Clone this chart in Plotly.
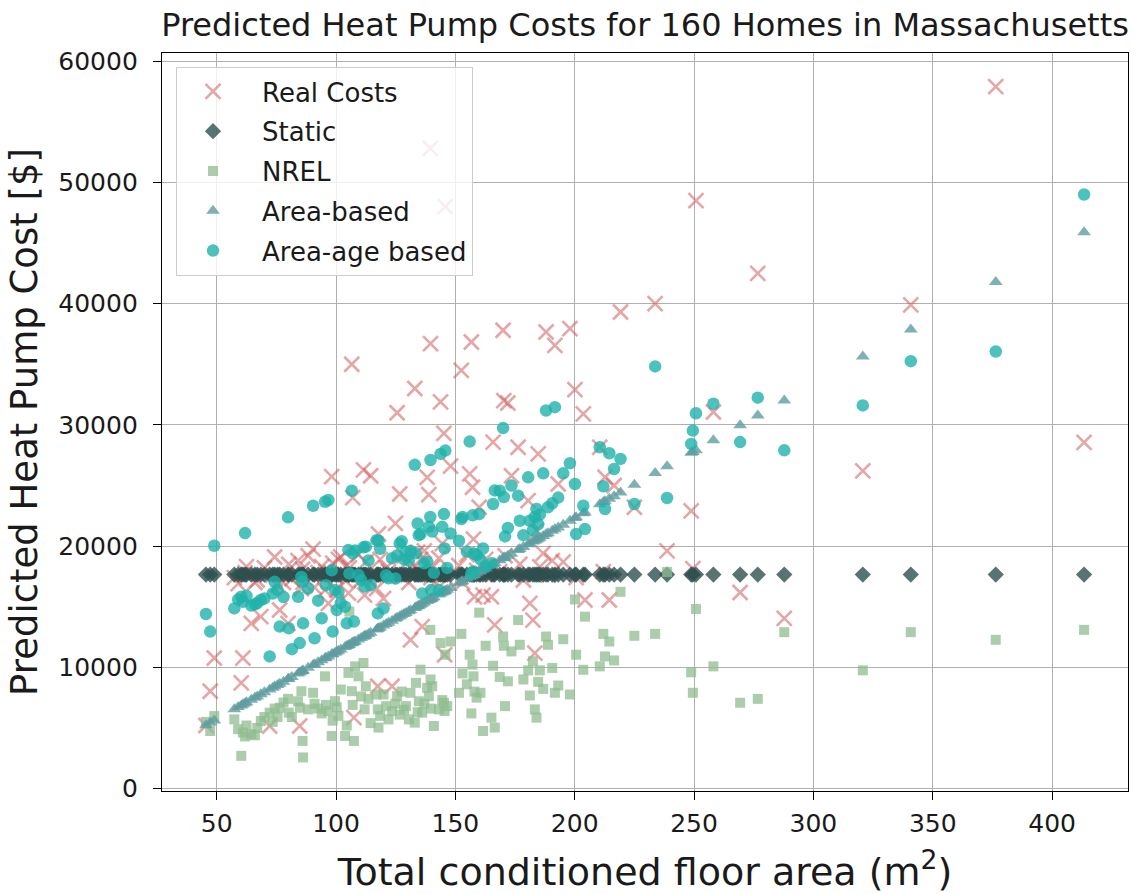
import plotly.graph_objects as go

# Floor area of each home (m^2)
area = [45.5, 47.3, 49.0, 57.4, 59.0, 60.3, 61.0, 61.9, 62.5, 64.5,
        66.0, 67.0, 68.5, 70.0, 72.2, 73.5, 74.3, 75.5, 76.4, 78.0,
        79.9, 80.2, 81.5, 84.1, 84.8, 85.5, 86.0, 86.2, 88.3, 90.4,
        91.0, 92.5, 94.0, 95.4, 95.8, 96.8, 98.2, 98.6, 99.6, 100.3,
        101.0, 102.0, 103.8, 104.5, 105.2, 105.6, 106.6, 107.0, 107.5, 108.0,
        109.4, 110.5, 111.5, 112.0, 112.5, 113.6, 114.5, 117.0, 117.5, 117.8,
        118.5, 119.9, 121.0, 122.0, 123.5, 124.9, 125.6, 126.7, 127.5, 128.5,
        129.3, 130.5, 131.2, 133.0, 133.5, 134.2, 134.7, 135.4, 136.1, 137.0,
        138.2, 138.9, 139.5, 139.6, 139.8, 140.3, 141.0, 143.1, 143.8, 144.5,
        145.2, 145.5, 145.8, 146.6, 148.0, 151.5, 152.5, 153.0, 154.8, 156.0,
        156.7, 157.2, 157.6, 158.0, 158.9, 160.0, 160.5, 161.6, 162.7, 165.1,
        165.8, 166.5, 168.6, 170.0, 170.3, 170.8, 172.0, 173.5, 176.3, 177.0,
        178.5, 180.5, 181.2, 182.5, 183.3, 184.0, 184.7, 185.4, 186.8, 188.0,
        188.8, 190.6, 191.7, 193.1, 195.2, 198.0, 200.1, 200.6, 203.6, 204.3,
        210.5, 212.0, 212.7, 214.5, 216.5, 219.2, 225.0, 233.7, 238.7, 248.8,
        249.5, 250.8, 258.1, 269.3, 276.7, 287.8, 320.7, 340.8, 376.4, 413.4]

real_costs = [5200, 8030, 10770, 17400, 16900, 8720, 10770, 17800, 18300, 13630,
              17000, 17200, 14180, 18200, 5160, 17600, 19100, 16800, 14730, 17000,
              13630, 18500, 17300, 18800, 5160, 16500, 18100, 17000, 19200, 19750,
              16600, 17800, 18300, 16370, 17900, 15270, 25730, 18600, 17500, 16370,
              18900, 19100, 17190, 18400, 16120, 18200, 35000, 24000, 5850, 17600,
              19300, 17200, 26280, 15960, 18700, 17300, 25800, 16500, 8440, 21000,
              18900, 15680, 18200, 17900, 8440, 21870, 31000, 24300, 17500, 19200,
              18600, 17000, 12270, 33000, 18300, 19500, 17800, 18900, 13360, 19600,
              25670, 24240, 52800, 36700, 17400, 18200, 16900, 19000, 31900, 20200,
              29300, 11040, 48000, 17300, 26600, 18400, 34490, 17000, 19300, 25950,
              36830, 24850, 20580, 15820, 18000, 23200, 17700, 15960, 18900, 15820,
              28570, 13500, 17900, 37800, 32000, 19200, 31800, 25800, 28150, 18500,
              17200, 23750, 15270, 13900, 11170, 21270, 27600, 18280, 19400, 37660,
              17600, 18800, 36560, 25120, 18700, 37930, 32900, 17400, 30900, 15550,
              28150, 17900, 25680, 15550, 25000, 39310, 23200, 40000, 19600, 22900,
              18140, 48500, 31060, 16170, 42500, 14040, 26200, 39900, 57900, 28550]

static_cost = [17650, 17650, 17650, 17650, 17650, 17650, 17650, 17650, 17650, 17650,
               17650, 17650, 17650, 17650, 17650, 17650, 17650, 17650, 17650, 17650,
               17650, 17650, 17650, 17650, 17650, 17650, 17650, 17650, 17650, 17650,
               17650, 17650, 17650, 17650, 17650, 17650, 17650, 17650, 17650, 17650,
               17650, 17650, 17650, 17650, 17650, 17650, 17650, 17650, 17650, 17650,
               17650, 17650, 17650, 17650, 17650, 17650, 17650, 17650, 17650, 17650,
               17650, 17650, 17650, 17650, 17650, 17650, 17650, 17650, 17650, 17650,
               17650, 17650, 17650, 17650, 17650, 17650, 17650, 17650, 17650, 17650,
               17650, 17650, 17650, 17650, 17650, 17650, 17650, 17650, 17650, 17650,
               17650, 17650, 17650, 17650, 17650, 17650, 17650, 17650, 17650, 17650,
               17650, 17650, 17650, 17650, 17650, 17650, 17650, 17650, 17650, 17650,
               17650, 17650, 17650, 17650, 17650, 17650, 17650, 17650, 17650, 17650,
               17650, 17650, 17650, 17650, 17650, 17650, 17650, 17650, 17650, 17650,
               17650, 17650, 17650, 17650, 17650, 17650, 17650, 17650, 17650, 17650,
               17650, 17650, 17650, 17650, 17650, 17650, 17650, 17650, 17650, 17650,
               17650, 17650, 17650, 17650, 17650, 17650, 17650, 17650, 17650, 17650]

nrel_cost = [5500, 4750, 5980, 5710, 4900, 2700, 4620, 4300, 5200, 4480,
             4400, 5000, 5570, 5900, 6260, 5500, 6600, 5900, 6670, 7100,
             7400, 6260, 5900, 7200, 6670, 8030, 3930, 2570, 6530, 7900,
             7000, 6600, 6200, 9260, 6900, 6390, 4340, 5600, 7210, 6700,
             6000, 8170, 4340, 5200, 9540, 14590, 8030, 6900, 3930, 10080,
             9260, 7600, 10360, 6530, 8440, 7400, 5400, 7760, 6530, 5030,
             6000, 7760, 6800, 5710, 6390, 7000, 7620, 6100, 8000, 6500,
             6800, 5710, 7900, 5440, 8720, 6300, 7200, 9810, 6260, 7000,
             8300, 7620, 13090, 9000, 6600, 8440, 5160, 6530, 12000, 7300,
             7080, 6400, 11040, 6800, 12130, 7900, 12760, 9500, 8600, 11040,
             6200, 10220, 9260, 8000, 7500, 14510, 7900, 4750, 11780, 5850,
             10130, 5030, 9210, 12540, 11780, 6800, 8850, 11310, 13900, 11860,
             9000, 9750, 7680, 10500, 6530, 5850, 8800, 9750, 8220, 12540,
             11860, 9950, 7900, 8500, 12320, 7760, 15600, 11040, 9800, 14180,
             10080, 12760, 10900, 12130, 10570, 16230, 12600, 12760, 17870, 9590,
             7900, 14810, 10080, 7080, 7400, 12900, 9750, 12900, 12270, 13090]

area_based_cost = [5230, 5430, 5610, 6540, 6720, 6860, 6940, 7040, 7110, 7330,
                   7490, 7600, 7770, 7940, 8180, 8320, 8410, 8540, 8640, 8820,
                   9030, 9060, 9210, 9490, 9570, 9650, 9700, 9730, 9960, 10190,
                   10260, 10420, 10590, 10740, 10790, 10900, 11050, 11100, 11210, 11280,
                   11360, 11470, 11670, 11750, 11820, 11870, 11980, 12020, 12080, 12130,
                   12290, 12410, 12520, 12580, 12630, 12750, 12850, 13130, 13180, 13220,
                   13290, 13450, 13570, 13680, 13850, 14000, 14080, 14200, 14290, 14400,
                   14490, 14620, 14700, 14900, 14950, 15030, 15080, 15160, 15240, 15340,
                   15470, 15550, 15610, 15630, 15650, 15700, 15780, 16010, 16090, 16170,
                   16240, 16280, 16310, 16400, 16550, 16940, 17050, 17110, 17310, 17440,
                   17520, 17570, 17610, 17660, 17760, 17880, 17940, 18060, 18180, 18440,
                   18520, 18600, 18830, 18990, 19020, 19070, 19210, 19370, 19680, 19760,
                   19920, 20150, 20220, 20370, 20450, 20530, 20610, 20690, 20840, 20970,
                   21060, 21260, 21380, 21540, 21770, 22080, 22310, 22370, 22700, 22780,
                   23460, 23630, 23700, 23900, 24120, 24420, 25060, 26020, 26580, 27690,
                   27770, 27910, 28720, 29960, 30780, 32000, 35640, 37860, 41790, 45880]

area_age_cost = [14400, 12950, 20030, 14860, 15600, 15820, 15400, 21070, 15900, 15100,
                 15200, 15300, 15550, 15680, 10900, 16090, 17050, 16400, 13360, 15800,
                 22370, 13220, 11500, 15820, 12000, 17460, 17050, 13630, 16500, 23330,
                 12400, 15500, 14040, 23660, 16780, 23800, 18000, 12950, 16370, 14730,
                 16200, 15300, 15000, 13630, 19670, 17730, 24570, 19400, 13770, 19640,
                 17620, 17200, 19900, 16670, 19950, 18820, 16780, 20490, 14450, 20440,
                 19780, 14860, 17600, 17350, 19000, 17320, 19230, 20220, 20400, 18900,
                 19540, 18800, 19600, 26700, 19400, 21860, 20900, 21000, 16090, 18580,
                 18700, 21590, 22400, 27100, 16370, 21200, 17800, 16370, 27600, 21590,
                 22640, 19800, 27880, 18200, 21040, 20440, 22230, 22400, 19540, 28620,
                 17730, 22540, 17900, 19370, 19260, 22640, 18900, 19800, 18300, 18580,
                 23470, 24590, 24570, 29730, 24040, 20800, 21500, 24990, 24160, 22090,
                 20900, 25670, 22090, 21300, 22400, 23060, 21800, 22600, 26000, 31180,
                 23200, 23530, 31460, 24000, 26000, 26830, 25120, 21000, 23330, 21400,
                 28150, 24930, 23060, 27660, 26360, 27190, 23470, 34820, 23970, 28430,
                 29530, 30960, 31740, 28580, 32240, 27900, 31600, 35250, 36050, 49000]

x_ticks = [50, 100, 150, 200, 250, 300, 350, 400]
y_ticks = [0, 10000, 20000, 30000, 40000, 50000, 60000]

FONT = "DejaVu Sans"
TXT = "#1a1a1a"
PAD = "\u2002"  # small gap between legend symbol and its label

fig = go.Figure()
fig.add_trace(go.Scatter(
    x=area, y=real_costs, mode="markers", name=PAD + "Real Costs", legendgroup="a",
    marker=dict(symbol="x-thin", size=15, color="rgba(205,92,92,0.55)",
                line=dict(width=2.6, color="rgba(205,92,92,0.55)"))))
fig.add_trace(go.Scatter(
    x=area, y=static_cost, mode="markers", name=PAD + "Static", legendgroup="b",
    marker=dict(symbol="diamond", size=12.5, color="rgba(47,79,79,0.8)",
                line=dict(width=0))))
fig.add_trace(go.Scatter(
    x=area, y=nrel_cost, mode="markers", name=PAD + "NREL", legendgroup="c",
    marker=dict(symbol="square", size=10, color="rgba(143,188,143,0.75)",
                line=dict(width=0))))
fig.add_trace(go.Scatter(
    x=area, y=area_based_cost, mode="markers", name=PAD + "Area-based", legendgroup="d",
    marker=dict(symbol="triangle-up", size=12, color="rgba(95,158,160,0.8)",
                line=dict(width=0))))
fig.add_trace(go.Scatter(
    x=area, y=area_age_cost, mode="markers", name=PAD + "Area-age based", legendgroup="e",
    marker=dict(symbol="circle", size=12.5, color="rgba(32,178,170,0.8)",
                line=dict(width=0))))

axis_common = dict(
    showgrid=True, gridcolor="#b0b0b0", gridwidth=1,
    showline=True, mirror=True, linecolor="black", linewidth=1.3,
    ticks="outside", ticklen=8, tickwidth=1.2, tickcolor="black",
    tickfont=dict(family=FONT, size=25, color=TXT),
    zeroline=False,
)

fig.update_xaxes(
    range=[27.1, 431.8], tickmode="array", tickvals=x_ticks,
    ticklabelstandoff=2,
    title=dict(text="Total conditioned floor area (m<sup>2</sup>)",
               font=dict(family=FONT, size=38, color=TXT), standoff=22),
    **axis_common)
fig.update_yaxes(
    range=[-200, 60670], tickmode="array", tickvals=y_ticks,
    ticktext=[str(v) for v in y_ticks], ticklabelstandoff=10,
    title=dict(text="Predicted Heat Pump Cost [$]",
               font=dict(family=FONT, size=37, color=TXT), standoff=9),
    **axis_common)

fig.update_layout(
    width=1138, height=894,
    margin=dict(l=162, r=10, t=53, b=103, autoexpand=False),
    plot_bgcolor="white", paper_bgcolor="white",
    font=dict(family=FONT, color=TXT),
    title=dict(text="Predicted Heat Pump Costs for 160 Homes in Massachusetts",
               x=645 / 1138, xanchor="center", xref="container",
               y=1 - 25 / 894, yanchor="middle", yref="container",
               font=dict(family=FONT, size=32, color=TXT)),
    showlegend=True,
    legend=dict(x=0.0145, y=0.981, xanchor="left", yanchor="top",
                bgcolor="rgba(255,255,255,0.8)", bordercolor="#cccccc",
                borderwidth=1, font=dict(family=FONT, size=26, color=TXT),
                tracegroupgap=3, itemwidth=62),
)

fig.write_html("out.html")
